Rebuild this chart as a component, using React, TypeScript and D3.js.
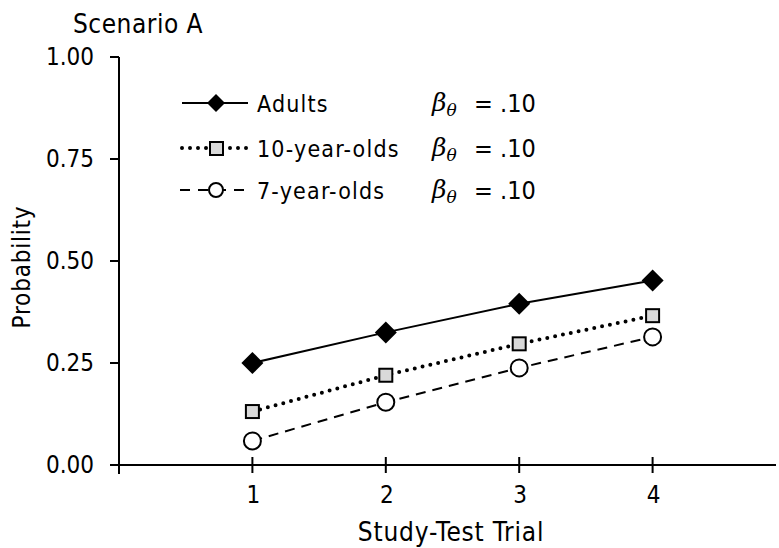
import React from "react";
import * as d3 from "d3";

const trials = [1, 2, 3, 4];
const adults = [0.25, 0.325, 0.395, 0.452];
const tenYear = [0.131, 0.22, 0.297, 0.366];
const sevenYear = [0.059, 0.154, 0.238, 0.314];
const yTicks = [0, 0.25, 0.5, 0.75, 1.0];
const seriesNames = ["Adults", "10-year-olds", "7-year-olds"];
const betaLabels = ["= .10", "= .10", "= .10"];

const FONT = "'DejaVu Sans Condensed', 'DejaVu Sans', sans-serif";

export default function App() {
  const W = 779, H = 548;
  const x = d3.scaleLinear().domain([0, 5]).range([119, 786]);
  const y = d3.scaleLinear().domain([0, 1]).range([465, 57]);
  const line = d3.line<number>().x((_, i) => x(trials[i])).y((d) => y(d));

  const diamond = (cx: number, cy: number, r = 11) =>
    `M${cx},${cy - r}L${cx + r},${cy}L${cx},${cy + r}L${cx - r},${cy}Z`;

  const legendY = [103, 148, 190];

  return (
    <svg width={W} height={H} style={{ position: "absolute", left: 0, top: 0, background: "#fff" }}
      fontFamily={FONT}>
      <rect width={W} height={H} fill="#fff" />
      <text x={73} y={33} fontSize={26} letterSpacing={0.5} fill="#000">Scenario A</text>
      {/* y axis */}
      <line x1={119} x2={119} y1={y(1)} y2={474} stroke="#000" strokeWidth={2} />
      {yTicks.map((t) => (
        <g key={t}>
          <line x1={110} x2={119} y1={y(t)} y2={y(t)} stroke="#000" strokeWidth={2} />
          <text x={94} y={y(t) + 8} fontSize={24} textAnchor="end">{t.toFixed(2)}</text>
        </g>
      ))}
      {/* x axis */}
      <line x1={119} x2={776} y1={y(0)} y2={y(0)} stroke="#000" strokeWidth={2} />
      {trials.map((t) => (
        <g key={t}>
          <line x1={x(t)} x2={x(t)} y1={y(0) - 8} y2={y(0) + 8} stroke="#000" strokeWidth={2} />
          <text x={x(t) + 1} y={503} fontSize={24} textAnchor="middle">{t}</text>
        </g>
      ))}
      <text x={451} y={541} fontSize={26} letterSpacing={0.8} textAnchor="middle">Study-Test Trial</text>
      <text transform="translate(30,267) rotate(-90)" fontSize={24} letterSpacing={0.8}
        textAnchor="middle">Probability</text>

      {/* lines */}
      <path d={line(adults) || ""} fill="none" stroke="#000" strokeWidth={2} />
      <path d={line(tenYear) || ""} fill="none" stroke="#000" strokeWidth={4}
        strokeDasharray="0 8" strokeLinecap="round" />
      <path d={line(sevenYear) || ""} fill="none" stroke="#000" strokeWidth={2}
        strokeDasharray="10 7" />

      {/* markers */}
      {adults.map((v, i) => (
        <path key={"a" + i} d={diamond(x(trials[i]), y(v))} fill="#000" />
      ))}
      {tenYear.map((v, i) => (
        <rect key={"t" + i} x={x(trials[i]) - 6.5} y={y(v) - 6.5} width={13} height={13}
          fill="#d9d9d9" stroke="#000" strokeWidth={2} />
      ))}
      {sevenYear.map((v, i) => (
        <circle key={"s" + i} cx={x(trials[i])} cy={y(v)} r={8.5} fill="#fff" stroke="#000" strokeWidth={2} />
      ))}

      {/* legend */}
      <line x1={182} x2={248} y1={legendY[0]} y2={legendY[0]} stroke="#000" strokeWidth={2} />
      <path d={diamond(216, legendY[0], 9)} fill="#000" />
      <line x1={182} x2={250} y1={legendY[1]} y2={legendY[1]} stroke="#000" strokeWidth={4}
        strokeDasharray="0 8" strokeLinecap="round" />
      <rect x={210} y={legendY[1] - 6} width={13} height={13} fill="#d9d9d9" stroke="#000" strokeWidth={2} />
      <line x1={180} x2={252} y1={legendY[2]} y2={legendY[2]} stroke="#000" strokeWidth={2}
        strokeDasharray="10 8" />
      <circle cx={216} cy={legendY[2]} r={7} fill="#fff" stroke="#000" strokeWidth={2} />
      {seriesNames.map((n, i) => (
        <text key={n} x={257} y={legendY[i] + 9} fontSize={23} letterSpacing={1.2}>{n}</text>
      ))}
      {betaLabels.map((b, i) => (
        <g key={i}>
          <text x={432} y={legendY[i] + 8} fontSize={25} fontStyle="italic"
            fontFamily="'DejaVu Serif', serif">β<tspan fontSize={17} dy={5}>θ</tspan></text>
          <text x={474} y={legendY[i] + 9} fontSize={25}>{b}</text>
        </g>
      ))}
    </svg>
  );
}
